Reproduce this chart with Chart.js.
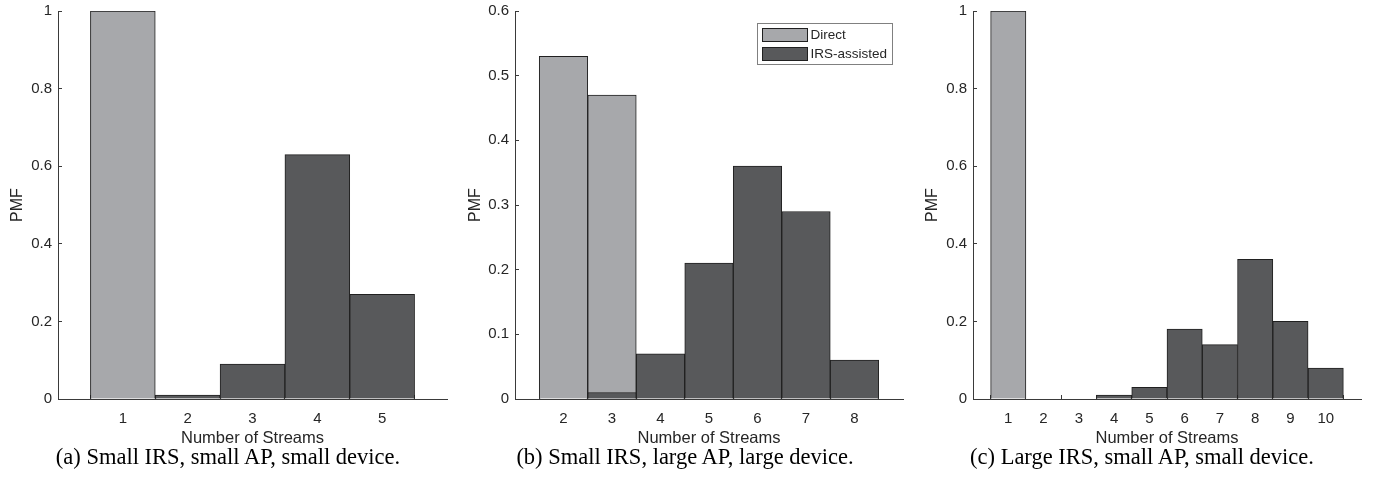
<!DOCTYPE html>
<html>
<head>
<meta charset="utf-8">
<script src="https://cdn.jsdelivr.net/npm/chart.js@4.4.1/dist/chart.umd.min.js"></script>
<style>
  body { margin: 0; background: #fff; width: 1374px; height: 479px; position: relative; overflow: hidden; }
  .panel { position: absolute; top: 0; }
  .caption {
    position: absolute; top: 444px; width: 420px; text-align: center; white-space: nowrap;
    font-family: "Liberation Serif", "Times New Roman", serif; font-size: 22.5px; line-height: 26px; color: #000;
  }
</style>
</head>
<body>
<div class="panel" style="left:0px"><canvas id="chartA" width="460" height="450"></canvas></div>
<div class="panel" style="left:458px"><canvas id="chartB" width="453" height="450"></canvas></div>
<div class="panel" style="left:915px"><canvas id="chartC" width="459" height="450"></canvas></div>
<div class="caption" style="left:18px">(a) Small IRS, small AP, small device.</div>
<div class="caption" style="left:475px">(b) Small IRS, large AP, large device.</div>
<div class="caption" style="left:932px">(c) Large IRS, small AP, small device.</div>
<script>
const seriesNames = ["Direct", "IRS-assisted"];

// (a) Small IRS, small AP, small device
const streamsA = [1, 2, 3, 4, 5];
const directA = [1, 0, 0, 0, 0];
const irsA = [0, 0.01, 0.09, 0.63, 0.27];
const xLimitsA = [0, 6];
const yTicksA = [0, 0.2, 0.4, 0.6, 0.8, 1];

// (b) Small IRS, large AP, large device
const streamsB = [2, 3, 4, 5, 6, 7, 8];
const directB = [0.53, 0.47, 0, 0, 0, 0, 0];
const irsB = [0, 0.01, 0.07, 0.21, 0.36, 0.29, 0.06];
const xLimitsB = [1, 9];
const yTicksB = [0, 0.1, 0.2, 0.3, 0.4, 0.5, 0.6];

// (c) Large IRS, small AP, small device
const streamsC = [1, 2, 3, 4, 5, 6, 7, 8, 9, 10];
const directC = [1, 0, 0, 0, 0, 0, 0, 0, 0, 0];
const irsC = [0, 0, 0, 0.01, 0.03, 0.18, 0.14, 0.36, 0.2, 0.08];
const xLimitsC = [0, 11];
const yTicksC = [0, 0.2, 0.4, 0.6, 0.8, 1];

const axisColor = "#3a3a3a";
const textColor = "#262626";
const directColor = "#a7a8ab";
const irsColor = "#58595b";
const edgeColor = "#202020";
const sansFont = "'Liberation Sans', Arial, sans-serif";

// legend drawn inside the plot with a thin frame, like the matlab one
const boxLegend = {
  id: "boxLegend",
  afterDraw(chart, args, opts) {
    if (!opts.show) return;
    const ctx = chart.ctx;
    const area = chart.chartArea;
    const sets = chart.data.datasets;
    ctx.save();
    ctx.font = "13.5px " + sansFont;
    const textW = Math.max(...sets.map((d) => ctx.measureText(d.label).width));
    const swW = 45, swH = 13, rowH = 19, pad = 5;
    const boxW = pad + swW + 3 + textW + 5;
    const boxH = 41;
    const bx = area.right - 11 - boxW;
    const by = area.top + 12;
    ctx.fillStyle = "#fff";
    ctx.fillRect(bx, by, boxW, boxH);
    ctx.strokeStyle = "#808080";
    ctx.lineWidth = 1;
    ctx.strokeRect(Math.round(bx) + 0.5, by + 0.5, Math.round(boxW), boxH);
    sets.forEach((d, i) => {
      const sy = by + pad + i * rowH;
      ctx.fillStyle = d.backgroundColor;
      ctx.fillRect(bx + pad, sy, swW, swH);
      ctx.strokeStyle = edgeColor;
      ctx.strokeRect(Math.round(bx + pad) + 0.5, sy + 0.5, swW, swH);
      ctx.fillStyle = textColor;
      ctx.textBaseline = "middle";
      ctx.fillText(d.label, bx + pad + swW + 3, sy + swH / 2 + 1);
    });
    ctx.restore();
  },
};

function makeChart(canvasId, streams, direct, irs, xLimits, yTicks, axisWidth, rightPad, withLegend) {
  const canvas = document.getElementById(canvasId);
  return new Chart(canvas, {
    type: "bar",
    data: {
      datasets: [
        {
          label: seriesNames[0],
          data: streams.map((s, i) => ({ x: s, y: direct[i] })),
          backgroundColor: directColor,
          order: 1,
          grouped: false,
        },
        {
          label: seriesNames[1],
          data: streams.map((s, i) => ({ x: s, y: irs[i] })),
          backgroundColor: irsColor,
          order: 0,
          grouped: false,
        },
      ],
    },
    options: {
      responsive: false,
      animation: false,
      layout: { padding: { top: 11, right: rightPad, left: 0, bottom: 0 } },
      datasets: {
        bar: {
          barPercentage: 1,
          categoryPercentage: 1,
          borderColor: edgeColor,
          borderWidth: 1,
          borderSkipped: "start",
        },
      },
      scales: {
        x: {
          type: "linear",
          offset: false,
          min: xLimits[0],
          max: xLimits[1],
          afterBuildTicks: (scale) => {
            scale.ticks = streams.map((v) => ({ value: v }));
          },
          afterFit: (scale) => {
            scale.height = 51;
          },
          grid: { drawOnChartArea: false, drawTicks: true, tickLength: -4, color: axisColor },
          border: { color: axisColor, width: 1 },
          ticks: { color: textColor, font: { family: sansFont, size: 15 }, padding: 15, maxRotation: 0, callback: (v) => String(v) },
          title: { display: true, text: "Number of Streams", color: textColor, font: { family: sansFont, size: 16.5 }, padding: { top: 0, bottom: 2 } },
        },
        y: {
          min: yTicks[0],
          max: yTicks[yTicks.length - 1],
          afterBuildTicks: (scale) => {
            scale.ticks = yTicks.map((v) => ({ value: v }));
          },
          afterFit: (scale) => {
            scale.width = axisWidth;
            scale.paddingTop = 0;
            scale.paddingBottom = 0;
          },
          grid: { drawOnChartArea: false, drawTicks: true, tickLength: -4, color: axisColor },
          border: { color: axisColor, width: 1 },
          ticks: { color: textColor, font: { family: sansFont, size: 15 }, padding: 10, callback: (v) => String(v) },
          title: { display: true, text: "PMF", color: textColor, font: { family: sansFont, size: 16 }, padding: { top: 8, bottom: 0 } },
        },
      },
      plugins: {
        legend: { display: false },
        tooltip: { enabled: false },
        boxLegend: { show: withLegend },
      },
    },
    plugins: [boxLegend],
  });
}

makeChart("chartA", streamsA, directA, irsA, xLimitsA, yTicksA, 58, 13, false);
makeChart("chartB", streamsB, directB, irsB, xLimitsB, yTicksB, 57, 8, true);
makeChart("chartC", streamsC, directC, irsC, xLimitsC, yTicksC, 58, 13, false);
</script>
</body>
</html>
